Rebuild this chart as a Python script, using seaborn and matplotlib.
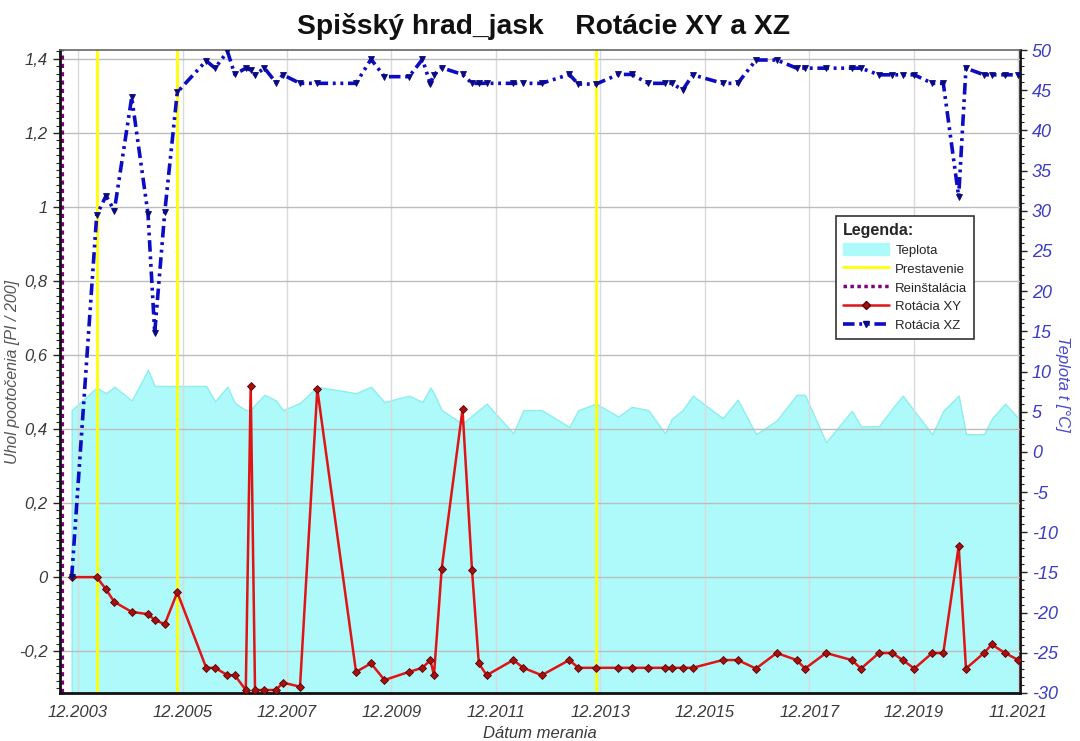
import numpy as np
import pandas as pd
import matplotlib
matplotlib.use("Agg")
import matplotlib.pyplot as plt
import seaborn as sns
from matplotlib.lines import Line2D
from matplotlib.patches import Patch
from matplotlib.ticker import FixedLocator, MultipleLocator, FuncFormatter

# ---------------- data ----------------
date_year = [2003.796, 2004.275, 2004.453, 2004.612, 2004.945, 2005.257, 2005.385, 2005.578,
             2005.817, 2006.371, 2006.539, 2006.778, 2006.918, 2007.128, 2007.222, 2007.305,
             2007.486, 2007.706, 2007.840, 2008.166, 2008.497, 2009.238, 2009.525, 2009.783,
             2010.252, 2010.510, 2010.660, 2010.730, 2010.878, 2011.276, 2011.458, 2011.588,
             2011.739, 2012.248, 2012.440, 2012.792, 2013.320, 2013.492, 2013.831, 2014.258,
             2014.514, 2014.832, 2015.151, 2015.280, 2015.490, 2015.682, 2016.256, 2016.543,
             2016.893, 2017.289, 2017.672, 2017.831, 2018.233, 2018.725, 2018.903, 2019.247,
             2019.502, 2019.701, 2019.923, 2020.267, 2020.478, 2020.772, 2020.912, 2021.257,
             2021.404, 2021.659, 2021.913]

rot_xy = [0.0, 0.0, -0.033, -0.067, -0.094, -0.100, -0.116, -0.127, -0.041, -0.245,
          -0.245, -0.265, -0.265, -0.305, 0.516, -0.305, -0.305, -0.305, -0.285, -0.296,
          0.508, -0.256, -0.233, -0.278, -0.256, -0.245, -0.224, -0.265, 0.023, 0.453,
          0.019, -0.233, -0.265, -0.224, -0.245, -0.265, -0.224, -0.245, -0.245, -0.245,
          -0.245, -0.245, -0.245, -0.245, -0.245, -0.245, -0.224, -0.224, -0.247, -0.205,
          -0.224, -0.247, -0.205, -0.224, -0.247, -0.205, -0.205, -0.224, -0.247, -0.205,
          -0.205, 0.084, -0.247, -0.205, -0.182, -0.205, -0.224]

rot_xz = [0.0, 0.978, 1.03, 0.99, 1.296, 0.981, 0.66, 0.987, 1.31, 1.395,
          1.375, 1.42, 1.358, 1.375, 1.37, 1.357, 1.375, 1.336, 1.357, 1.334,
          1.334, 1.334, 1.399, 1.352, 1.352, 1.399, 1.332, 1.357, 1.376, 1.358,
          1.334, 1.334, 1.334, 1.334, 1.334, 1.334, 1.358, 1.332, 1.332, 1.358,
          1.358, 1.334, 1.334, 1.334, 1.316, 1.357, 1.334, 1.334, 1.397, 1.397,
          1.375, 1.375, 1.375, 1.375, 1.375, 1.357, 1.357, 1.357, 1.357, 1.334,
          1.334, 1.028, 1.375, 1.357, 1.357, 1.357, 1.357]

teplota = [5.2, 8.0, 7.3, 8.1, 6.4, 10.2, 8.2, 8.2, 8.2, 8.2,
           6.3, 8.1, 6.1, 5.2, 5.2, 5.9, 7.1, 6.4, 5.2, 6.1,
           8.1, 7.3, 8.1, 6.2, 7.0, 6.2, 8.0, 7.3, 5.2, 3.5,
           4.5, 5.2, 6.0, 2.3, 5.2, 5.2, 3.1, 5.2, 6.0, 4.4,
           5.6, 5.2, 2.3, 4.1, 5.2, 7.0, 4.2, 6.5, 2.2, 3.9,
           7.1, 7.1, 1.2, 5.1, 3.2, 3.2, 5.4, 7.0, 5.1, 2.2,
           5.1, 7.0, 2.2, 2.2, 4.1, 6.0, 4.2]

prestavenie = [2004.275, 2005.817, 2013.831]
reinstalacia = [2003.617]

x_tick_pos = [2003.917, 2005.917, 2007.917, 2009.917, 2011.917, 2013.917,
              2015.917, 2017.917, 2019.917, 2021.917]
x_tick_labels = ["12.2003", "12.2005", "12.2007", "12.2009", "12.2011", "12.2013",
                 "12.2015", "12.2017", "12.2019", "11.2021"]
left_ticks = [-0.2, 0.0, 0.2, 0.4, 0.6, 0.8, 1.0, 1.2, 1.4]

legend_labels = ["Teplota", "Prestavenie", "Reinštalácia", "Rotácia XY", "Rotácia XZ"]

# ---------------- style ----------------
sns.set_style("white")
plt.rcParams["font.family"] = ["Liberation Sans", "DejaVu Sans"]
plt.rcParams["font.style"] = "italic"

C_FILL = "#aef9f9"
C_FILL_EDGE = "#8eeeee"
C_YEL = "#ffff00"
C_PUR = "#800080"
C_RED = "#e01414"
C_BLUE = "#0c0cc4"
XZ_DASH = (0, (3.2, 1.3, 0.8, 1.3, 0.8, 1.3))

fig = plt.figure(figsize=(10.8, 7.41), dpi=100)
ax = fig.add_axes([0.0551, 0.0648, 0.8893, 0.8677])
ax2 = ax.twinx()
ax.set_zorder(ax2.get_zorder() + 1)
ax.patch.set_visible(False)

# temperature area on the right axis
ax2.fill_between(date_year, teplota, -30, facecolor=C_FILL, edgecolor=C_FILL_EDGE, lw=1.0)
ax2.set_ylim(-30, 50)

# event lines
for xv in prestavenie:
    ax.axvline(xv, color=C_YEL, lw=2, zorder=1.5)
for xv in reinstalacia:
    ax.axvline(xv, color=C_PUR, lw=3, ls=(0, (1, 1)), zorder=1.5)

df = pd.DataFrame({"datum": date_year, "xy": rot_xy, "xz": rot_xz})
sns.lineplot(data=df, x="datum", y="xy", ax=ax, color=C_RED, lw=1.8, marker="D",
             markersize=4.5, markerfacecolor="#a81010", markeredgecolor="#5a0000",
             markeredgewidth=0.6, legend=False, zorder=3)
sns.lineplot(data=df, x="datum", y="xz", ax=ax, color=C_BLUE, lw=2.6, linestyle=XZ_DASH,
             marker="v", markersize=5, markerfacecolor="#0a0a80",
             markeredgecolor="#0a0a80", markeredgewidth=0.6, legend=False, zorder=4)

# axes limits / ticks
ax.set_xlim(2003.563, 2021.945)
ax.set_ylim(-0.313, 1.424)
ax.set_xticks(x_tick_pos)
ax.set_xticklabels(x_tick_labels)
ax.xaxis.set_minor_locator(FixedLocator(np.arange(2003.917 - 2, 2022.1, 1 / 6)))
ax.yaxis.set_major_locator(FixedLocator(left_ticks))
ax.yaxis.set_major_formatter(FuncFormatter(lambda v, p: f"{v:g}".replace(".", ",")))
ax.yaxis.set_minor_locator(MultipleLocator(0.02))
ax2.yaxis.set_major_locator(MultipleLocator(5))
ax2.yaxis.set_minor_locator(MultipleLocator(1))
ax2.yaxis.set_major_formatter(FuncFormatter(lambda v, p: f"{v:g}"))

narrow = ["Liberation Sans Narrow", "Liberation Sans", "DejaVu Sans"]
ax.tick_params(axis="both", which="major", direction="out", length=5, width=1,
               color="#222222", labelsize=12, labelcolor="#3a3a3a", labelfontfamily=narrow)
ax.tick_params(axis="both", which="minor", direction="out", length=3, width=0.8, color="#222222")
ax.tick_params(axis="x", pad=4)
ax2.tick_params(axis="y", which="major", direction="out", length=5, width=1,
                color="#222222", labelsize=13, labelcolor="#3c3cc4", labelfontfamily=narrow)
ax2.tick_params(axis="y", which="minor", direction="out", length=3, width=0.8, color="#222222")

ax.grid(False)
ax.set_axisbelow(True)
ax.xaxis.grid(True, which="major", color="#dadada", lw=1)
ax.yaxis.grid(True, which="major", color="#bdbdbd", lw=1)

for sp in ["left", "bottom"]:
    ax.spines[sp].set_color("#111111")
    ax.spines[sp].set_linewidth(2)
ax.spines["top"].set_color("#666666")
ax.spines["top"].set_linewidth(1.2)
ax.spines["right"].set_visible(False)
ax2.spines["right"].set_color("#111111")
ax2.spines["right"].set_linewidth(2)
for sp in ["left", "bottom", "top"]:
    ax2.spines[sp].set_visible(False)

# labels
ax.set_xlabel("Dátum merania", fontsize=12, color="#3a3a3a", family=narrow, va="center")
ax.xaxis.set_label_coords(0.5, -0.063)
ax.set_ylabel("Uhol pootočenia [PI / 200]", fontsize=11.5, color="#555555",
              family=narrow, ha="center", va="center")
ax.yaxis.set_label_coords(-0.049, 0.5)
ax2.set_ylabel("Teplota t [°C]", fontsize=12, color="#4a4acc", rotation=-90,
               family=narrow, ha="center", va="center")
ax2.yaxis.set_label_coords(1.044, 0.48)

fig.text(0.503, 1 - 27 / 741, "Spišský hrad_jask    Rotácie XY a XZ", ha="center",
         va="center", fontsize=20.3, fontweight="bold", fontstyle="normal", color="#111111",
         family=["Liberation Sans Narrow", "Liberation Sans"])

# legend
handles = [
    Patch(facecolor=C_FILL, edgecolor=C_FILL),
    Line2D([], [], color=C_YEL, lw=2),
    Line2D([], [], color=C_PUR, lw=2.5, ls=(0, (1, 1))),
    Line2D([], [], color=C_RED, lw=1.8, marker="D", ms=4, mfc="#a81010", mec="#5a0000"),
    Line2D([], [], color=C_BLUE, lw=2.6, ls=XZ_DASH, marker="v", ms=5, mfc="#0a0a80", mec="#0a0a80"),
]
leg = ax.legend(handles, legend_labels, title="Legenda:", loc="upper left",
                bbox_to_anchor=(0.8084, 0.7418), borderaxespad=0, frameon=True, fancybox=False,
                edgecolor="#333333", framealpha=1,
                prop={"family": "Liberation Sans", "style": "normal", "size": 9.5},
                title_fontproperties={"family": "Liberation Sans", "weight": "bold",
                                      "size": 11.5, "style": "normal"},
                handlelength=3.5, handleheight=1.0, handletextpad=0.5, labelspacing=0.42,
                borderpad=0.5, alignment="left")
leg.get_frame().set_linewidth(1.2)

fig.savefig("out.png", dpi=100)
